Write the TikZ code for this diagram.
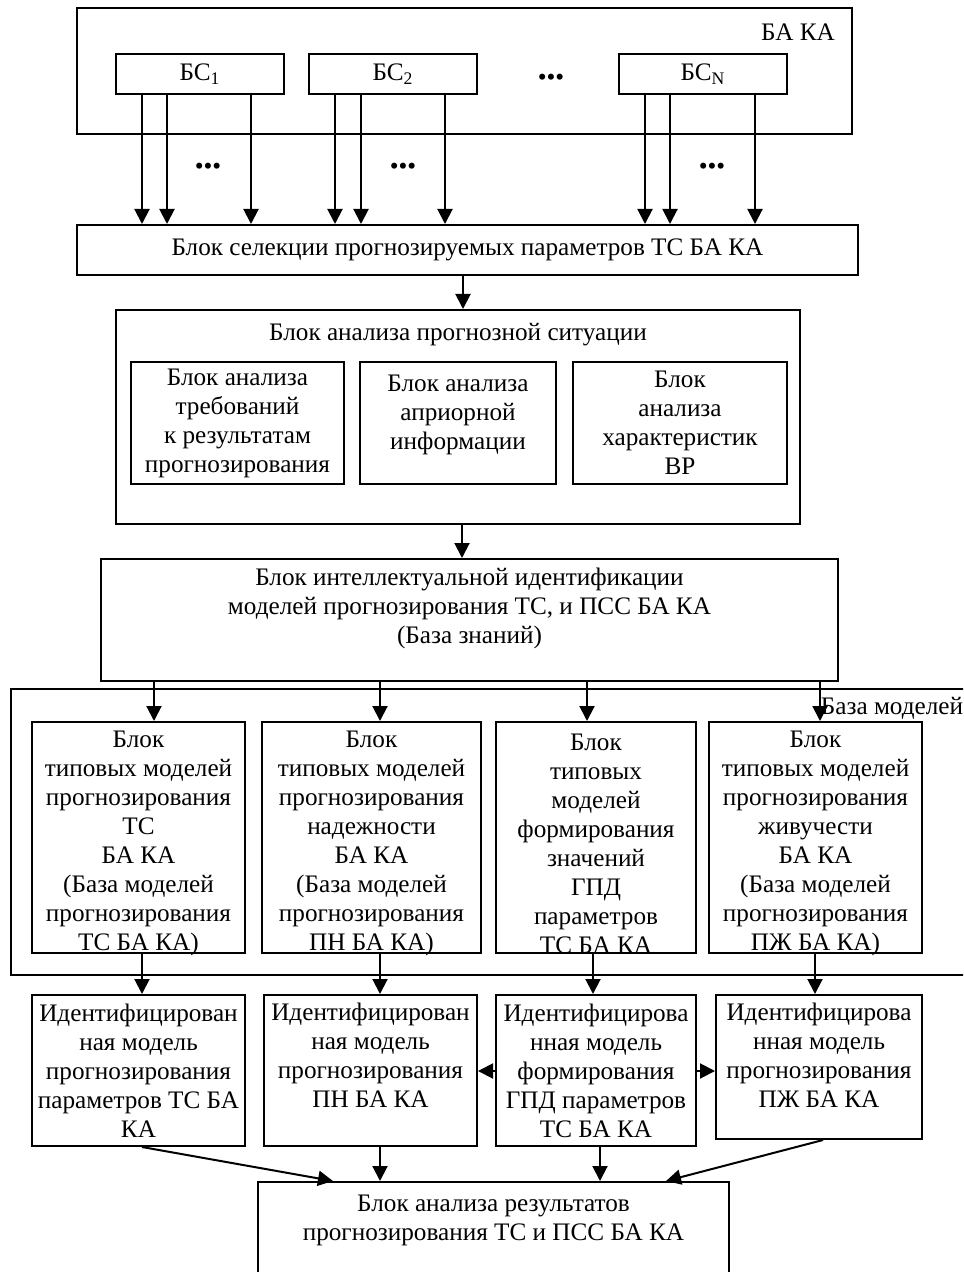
\documentclass[tikz,border=0pt]{standalone}
\usepackage{fontspec}
\setmainfont{Liberation Serif}
\usetikzlibrary{arrows.meta}
\begin{document}
\begin{tikzpicture}[x=0.5pt,y=-0.5pt,
    blk/.style={draw,line width=1pt,inner sep=0pt,align=center,font=\fontsize{12.6}{14.5}\selectfont},
    txt/.style={align=center,inner sep=0pt,font=\fontsize{12.6}{14.5}\selectfont},
    arr/.style={line width=1pt,-{Triangle[width=7.5pt,length=7.5pt]}}]
    \useasboundingbox (0,0) rectangle (963,1272);
    \clip (0,0) rectangle (963,1272);
    % sources
    \node[blk,minimum width=387.5pt,minimum height=63pt] (baka) at (464.5,71) {};
    \node[txt] (bakalbl) at (798,32) {БА КА};
    \node[blk,minimum width=84pt,minimum height=20pt] (bs1) at (200,74) {БС\textsubscript{1}};
    \node[blk,minimum width=84pt,minimum height=20pt] (bs2) at (393,74) {БС\textsubscript{2}};
    \node[blk,minimum width=84pt,minimum height=20pt] (bsn) at (703,74) {БС\textsubscript{N}};
    \node[txt] (bsdots) at (551,80) {•••};
    \node[txt] (dots1) at (208,169) {•••};
    \node[txt] (dots2) at (403,169) {•••};
    \node[txt] (dotsn) at (712,169) {•••};
    \node[blk,minimum width=390.5pt,minimum height=25pt] (sel) at (467.5,250) {Блок селекции прогнозируемых параметров ТС БА КА};
    \foreach \x in {142,167,251} \draw[arr] (\x,0 |- bs1.south) -- (\x,0 |- sel.north);
    \foreach \x in {335,361,445} \draw[arr] (\x,0 |- bs2.south) -- (\x,0 |- sel.north);
    \foreach \x in {645,670,755} \draw[arr] (\x,0 |- bsn.south) -- (\x,0 |- sel.north);
    % analysis
    \node[blk,minimum width=342pt,minimum height=107pt] (anl) at (458,417) {};
    \node[txt,anchor=north] (anltxt) at ([yshift=-7pt]anl.north) {Блок анализа прогнозной ситуации};
    \node[blk,minimum width=106.5pt,minimum height=61pt] (req) at (237.5,423) {Блок анализа\\требований\\к результатам\\прогнозирования};
    \node[blk,minimum width=98pt,minimum height=61pt] (apr) at (458,423) {};
    \node[txt] (aprtxt) at ([yshift=4pt]apr.center) {Блок анализа\\априорной\\информации};
    \node[blk,minimum width=107pt,minimum height=61pt] (chr) at (680,423) {Блок\\анализа\\характеристик\\ВР};
    \draw[arr] (463,0 |- sel.south) -- (463,0 |- anl.north);
    \node[blk,minimum width=368.5pt,minimum height=61pt] (ident) at (469.5,620) {};
    \node[txt,anchor=north] (identtxt) at ([yshift=-5pt]ident.north) {Блок интеллектуальной идентификации\\моделей прогнозирования ТС, и ПСС БА КА\\(База знаний)};
    \draw[arr] (462,0 |- anl.south) -- (462,0 |- ident.north);
    % model base
    \node[blk,minimum width=494.5pt,minimum height=143pt] (mbase) at (505.5,832) {};
    \node[txt] (mbaselbl) at (892,708) {База моделей};
    \node[blk,minimum width=106.5pt,minimum height=115.5pt] (m1) at (138.5,837.5) {};
    \node[blk,minimum width=109.5pt,minimum height=115.5pt] (m2) at (371.5,837.5) {};
    \node[blk,minimum width=100pt,minimum height=115.5pt] (m3) at (596,837.5) {};
    \node[blk,minimum width=106.5pt,minimum height=115.5pt] (m4) at (815.5,837.5) {};
    \node[txt] (m1txt) at ([yshift=-3pt]m1.center) {Блок\\типовых моделей\\прогнозирования\\ТС\\БА КА\\(База моделей\\прогнозирования\\ТС БА КА)};
    \node[txt] (m2txt) at ([yshift=-3pt]m2.center) {Блок\\типовых моделей\\прогнозирования\\надежности\\БА КА\\(База моделей\\прогнозирования\\ПН БА КА)};
    \node[txt] (m3txt) at ([yshift=-3pt]m3.center) {Блок\\типовых\\моделей\\формирования\\значений\\ГПД\\параметров\\ТС БА КА};
    \node[txt] (m4txt) at ([yshift=-3pt]m4.center) {Блок\\типовых моделей\\прогнозирования\\живучести\\БА КА\\(База моделей\\прогнозирования\\ПЖ БА КА)};
    \draw[arr] (154,0 |- ident.south) -- (154,0 |- m1.north);
    \draw[arr] (380,0 |- ident.south) -- (380,0 |- m2.north);
    \draw[arr] (587,0 |- ident.south) -- (587,0 |- m3.north);
    \draw[arr] (820,0 |- ident.south) -- (820,0 |- m4.north);
    % identified models
    \node[blk,minimum width=106.5pt,minimum height=75.5pt] (i1) at (138.5,1070.5) {Идентифицирован\\ная модель\\прогнозирования\\параметров ТС БА\\КА};
    \node[blk,minimum width=106.5pt,minimum height=75.5pt] (i2) at (370.5,1070.5) {};
    \node[txt,anchor=north] (i2txt) at ([yshift=-4.5pt]i2.north) {Идентифицирован\\ная модель\\прогнозирования\\ПН БА КА};
    \node[blk,minimum width=100pt,minimum height=75.5pt] (i3) at (596,1070.5) {Идентифицирова\\нная модель\\формирования\\ГПД параметров\\ТС БА КА};
    \node[blk,minimum width=103pt,minimum height=72pt] (i4) at (819,1067) {};
    \node[txt,anchor=north] (i4txt) at ([yshift=-4.5pt]i4.north) {Идентифицирова\\нная модель\\прогнозирования\\ПЖ БА КА};
    \draw[arr] (142,0 |- m1.south) -- (142,0 |- i1.north);
    \draw[arr] (380,0 |- m2.south) -- (380,0 |- i2.north);
    \draw[arr] (593,0 |- m3.south) -- (593,0 |- i3.north);
    \draw[arr] (815,0 |- m4.south) -- (815,0 |- i4.north);
    \draw[arr] (i3.west |- 0,1071) -- (i2.east |- 0,1071);
    \draw[arr] (i3.east |- 0,1071) -- (i4.west |- 0,1071);
    % results
    \node[blk,minimum width=235.5pt,minimum height=59pt] (res) at (493.5,1241) {};
    \node[txt,anchor=north] (restxt) at ([yshift=-7pt]res.north) {Блок анализа результатов\\прогнозирования ТС и ПСС БА КА};
    \draw[arr] (142,0 |- i1.south) -- (333,0 |- res.north);
    \draw[arr] (380,0 |- i2.south) -- (380,0 |- res.north);
    \draw[arr] (600,0 |- i3.south) -- (600,0 |- res.north);
    \draw[arr] (823,0 |- i4.south) -- (666,0 |- res.north);
\end{tikzpicture}
\end{document}
